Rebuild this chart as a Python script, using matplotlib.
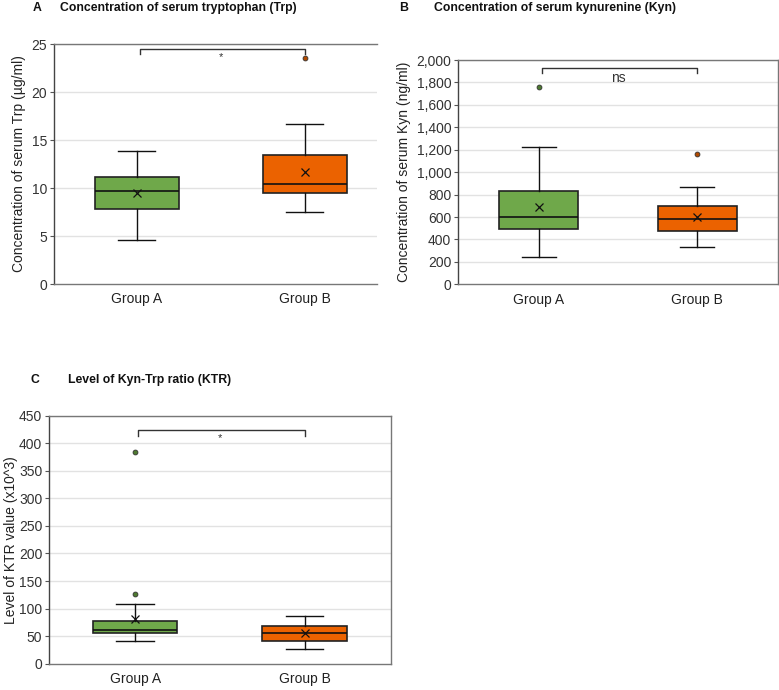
import matplotlib.pyplot as plt

plt.rcParams["font.family"] = ["Liberation Sans", "DejaVu Sans"]

groups = ["Group A", "Group B"]
colors = ["#6FA84A", "#EB6200"]
outlier_colors = ["#4E7A30", "#B04A00"]

# panel A: tryptophan (ug/ml)
trp_low = [4.6, 7.5]
trp_q1 = [7.8, 9.45]
trp_med = [9.7, 10.4]
trp_q3 = [11.1, 13.45]
trp_high = [13.9, 16.7]
trp_mean = [9.45, 11.7]
trp_out = [[], [23.5]]

# panel B: kynurenine (ng/ml)
kyn_low = [241, 335]
kyn_q1 = [496, 478]
kyn_med = [597, 580]
kyn_q3 = [829, 696]
kyn_high = [1224, 868]
kyn_mean = [687, 603]
kyn_out = [[1759], [1162]]

# panel C: KTR (x10^3)
ktr_low = [41, 27]
ktr_q1 = [56, 41]
ktr_med = [62, 55]
ktr_q3 = [77, 69]
ktr_high = [109, 87]
ktr_mean = [81, 56]
ktr_out = [[384, 127], []]


def make_stats(low, q1, med, q3, high, mean, out):
    stats = []
    for i in range(len(groups)):
        stats.append({"whislo": low[i], "q1": q1[i], "med": med[i], "q3": q3[i],
                      "whishi": high[i], "mean": mean[i], "fliers": out[i]})
    return stats


def draw_panel(ax, stats, ylim, yticks, yfmt, ylabel, bracket, sig, xlim,
               right_spine=True, labelpad=4):
    for y in yticks[1:]:
        ax.axhline(y, color="#e2e2e2", lw=1, zorder=0)
    for i, st in enumerate(stats):
        ax.bxp([st], positions=[i + 1], widths=0.5, patch_artist=True,
               showmeans=True, showfliers=True, capwidths=0.22,
               boxprops=dict(facecolor=colors[i], edgecolor="#222222", linewidth=1.2),
               medianprops=dict(color="#111111", linewidth=1.2),
               whiskerprops=dict(color="#111111", linewidth=1),
               capprops=dict(color="#111111", linewidth=1),
               meanprops=dict(marker="x", markeredgecolor="#111111", markersize=5.5, markeredgewidth=0.9),
               flierprops=dict(marker="o", markerfacecolor=outlier_colors[i],
                               markeredgecolor="#333333", markersize=3.5, markeredgewidth=0.6))
    y_top, y_drop = bracket
    ax.plot([1.02, 1.02, 2, 2], [y_drop, y_top, y_top, y_drop], color="#333333", lw=1)
    ax.text(1.5, y_top - (ylim[1] - ylim[0]) * 0.012, sig, ha="center", va="top",
            fontsize=10 if sig == "ns" else 8, color="#333333")
    ax.set_xlim(*xlim)
    ax.set_ylim(*ylim)
    ax.set_yticks(yticks)
    ax.set_yticklabels([yfmt.format(v) for v in yticks], fontsize=10, color="#333333")
    ax.set_xticks([1, 2])
    ax.set_xticklabels(groups, fontsize=10, color="#222222")
    ax.tick_params(axis="x", length=0, pad=6)
    ax.tick_params(axis="y", length=3, width=0.8, color="#555555", pad=2)
    ax.set_ylabel(ylabel, fontsize=10, color="#222222", labelpad=labelpad)
    for name, sp in ax.spines.items():
        sp.set_color("#777777")
        sp.set_linewidth(1)
    ax.spines["left"].set_color("#444444")
    ax.spines["right"].set_visible(right_spine)


fig = plt.figure(figsize=(7.79, 6.90), dpi=100)

ax_a = fig.add_axes([0.0693, 0.5884, 0.4147, 0.3478])
draw_panel(ax_a, make_stats(trp_low, trp_q1, trp_med, trp_q3, trp_high, trp_mean, trp_out),
           (0, 25), [0, 5, 10, 15, 20, 25], "{:d}", "Concentration of serum Trp (\u00b5g/ml)",
           (24.45, 23.95), "*", (0.506, 2.43), right_spine=False)

ax_b = fig.add_axes([0.5883, 0.588, 0.41, 0.325])
draw_panel(ax_b, make_stats(kyn_low, kyn_q1, kyn_med, kyn_q3, kyn_high, kyn_mean, kyn_out),
           (0, 2000), list(range(0, 2001, 200)), "{:,}", "Concentration of serum Kyn (ng/ml)",
           (1926, 1881), "ns", (0.49, 2.51))

ax_c = fig.add_axes([0.0633, 0.0381, 0.4386, 0.3594])
draw_panel(ax_c, make_stats(ktr_low, ktr_q1, ktr_med, ktr_q3, ktr_high, ktr_mean, ktr_out),
           (0, 450), list(range(0, 451, 50)), "{:d}", "Level of KTR value (x10^3)",
           (424, 414), "*", (0.494, 2.51), labelpad=1)

title_kw = dict(fontsize=8.8, fontweight="bold", color="#111111", va="center")
fig.text(33 / 779, 1 - 8 / 690, "A", **title_kw)
fig.text(60 / 779, 1 - 8 / 690, "Concentration of serum tryptophan (Trp)", **title_kw)
fig.text(399 / 779, 1 - 8 / 690, "B", **title_kw)
fig.text(434 / 779, 1 - 8 / 690, "Concentration of serum kynurenine (Kyn)", **title_kw)
fig.text(30 / 779, 1 - 380 / 690, "C", **title_kw)
fig.text(68 / 779, 1 - 380 / 690, "Level of Kyn-Trp ratio (KTR)", **title_kw)

fig.savefig("out.png", dpi=100, facecolor="white")
